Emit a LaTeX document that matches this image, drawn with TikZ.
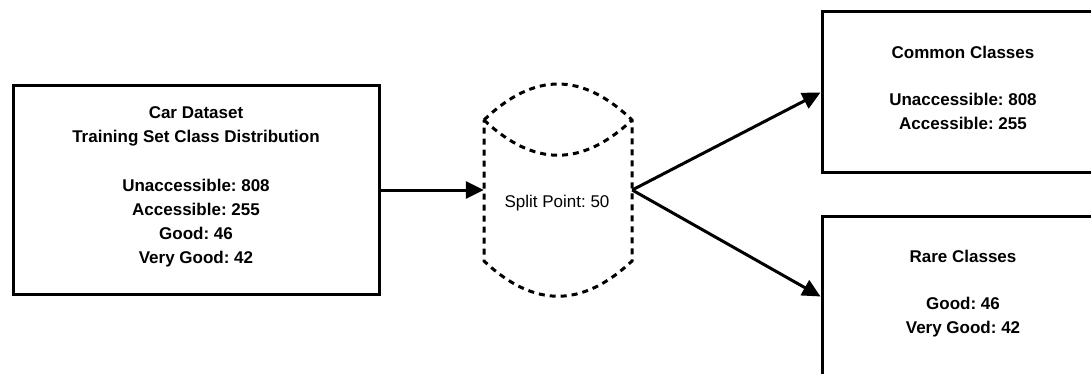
\documentclass[tikz,border=0pt]{standalone}
\usepackage{fontspec}
\setmainfont{Liberation Sans}
\frenchspacing
\usetikzlibrary{arrows.meta}
\begin{document}
\begin{tikzpicture}[x=1pt,y=-1pt,
  box/.style={draw, line width=3pt, rectangle, align=center, inner sep=0pt,
    font=\bfseries\fontsize{17}{24}\selectfont,
    execute at end node={\rule[-9pt]{0pt}{9pt}}},
  link/.style={line width=3pt, -{Triangle[length=18pt,width=17pt]}},
  cylline/.style={line width=3pt, dash pattern=on 6pt off 5pt}]
\useasboundingbox (0,0) rectangle (1091,374);
\clip (0,0) rectangle (1091,374);

% source data box
\node[box, minimum width=366pt, minimum height=209pt] (source) at (196,190)
  {Car Dataset\\Training Set Class Distribution\\[25pt]Unaccessible: 808\\Accessible: 255\\Good: 46\\Very Good: 42};

% split cylinder (outline drawn around an empty anchor node)
\node[minimum width=148pt, minimum height=212pt, inner sep=0pt] (split) at (558,190) {};
\draw[cylline] (484,120) .. controls (534,72) and (582,72) .. (632,120)
  -- (632,261) .. controls (582,308) and (534,308) .. (484,261) -- cycle;
\draw[cylline] (484,120) .. controls (534,167) and (582,167) .. (632,120);
\node[font=\fontsize{17}{20}\selectfont] (splittext) at (557,203) {Split Point: 50};

% result boxes
\node[box, minimum width=282pt, minimum height=161pt] (common) at (963,92.5)
  {Common Classes\\[23pt]Unaccessible: 808\\Accessible: 255};
\node[box, minimum width=282pt, minimum height=161pt] (rare) at (963,296.5)
  {Rare Classes\\[23pt]Good: 46\\Very Good: 42};

% connectors
\draw[link] (source.east) -- (split.west);
\draw[link] (split.east) -- (common.west);
\draw[link] (split.east) -- (rare.west);
\end{tikzpicture}
\end{document}
